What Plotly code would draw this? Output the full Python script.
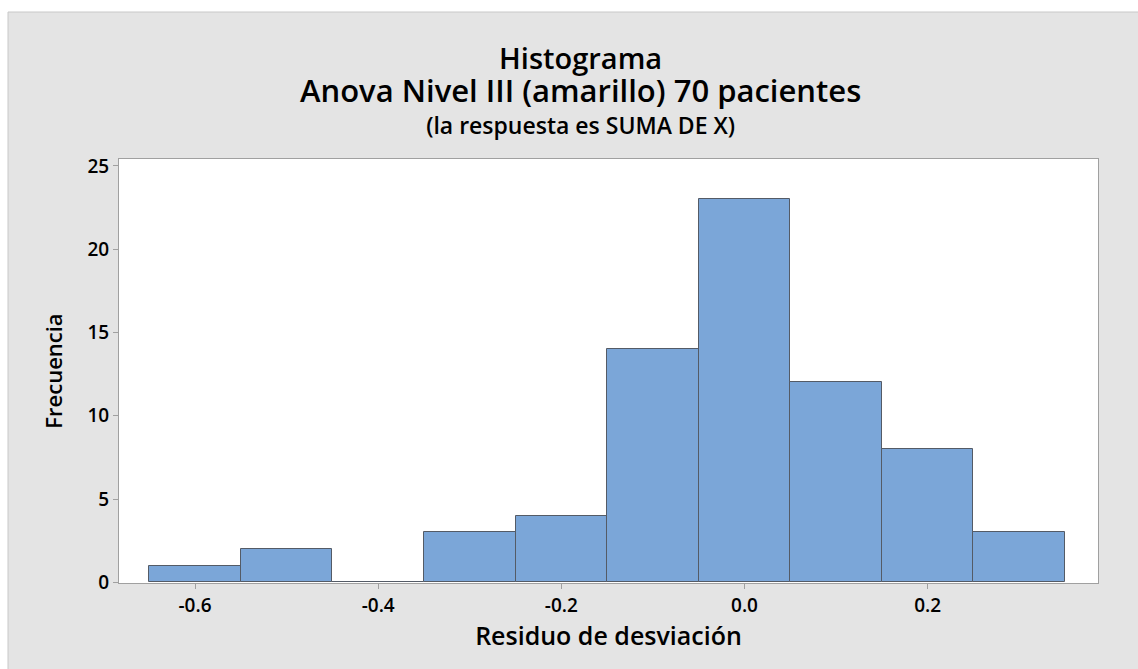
import plotly.graph_objects as go

# Histogram of deviance residuals (bin centres, width 0.1)
bin_centers = [-0.6, -0.5, -0.4, -0.3, -0.2, -0.1, 0.0, 0.1, 0.2, 0.3]
frequencies = [1, 2, 0, 3, 4, 14, 23, 12, 8, 3]
bin_width = 0.1

x_ticks = [-0.6, -0.4, -0.2, 0.0, 0.2]
y_ticks = [0, 5, 10, 15, 20, 25]

W, H = 1138, 669
L, R, T, B = 119, 1098, 159, 583  # plot area edges in pixels

FONT = "Open Sans"
PANEL = "#e4e4e4"


def px_x(p):
    return (p - L) / (R - L)


def px_y(p):
    return (B - p) / (B - T)


fig = go.Figure(
    go.Bar(
        x=bin_centers,
        y=frequencies,
        width=[bin_width] * len(bin_centers),
        marker=dict(color="#7ba6d8", line=dict(color="#545b66", width=1)),
        hoverinfo="x+y",
    )
)

fig.update_layout(
    width=W,
    height=H,
    margin=dict(l=L, r=W - R, t=T, b=H - B, pad=0),
    paper_bgcolor=PANEL,
    plot_bgcolor="white",
    showlegend=False,
    font=dict(family=FONT, color="black"),
    bargap=0,
)

fig.update_xaxes(
    range=[-0.683, 0.386],
    tickvals=x_ticks,
    ticktext=[f"{v:.1f}" for v in x_ticks],
    ticks="outside",
    ticklen=5,
    tickcolor="#a0a0a0",
    tickfont=dict(size=19, family=FONT, weight=600),
    showline=True,
    linecolor="#a0a0a0",
    linewidth=1,
    mirror=True,
    showgrid=False,
    zeroline=False,
    title=dict(text="Residuo de desviación", font=dict(size=25, family=FONT, weight=600), standoff=6),
)
fig.update_yaxes(
    range=[-0.04, 25.42],
    tickvals=y_ticks,
    ticks="outside",
    ticklen=5,
    tickcolor="#a0a0a0",
    tickfont=dict(size=19, family=FONT, weight=600),
    showline=True,
    linecolor="#a0a0a0",
    linewidth=1,
    mirror=True,
    showgrid=False,
    zeroline=False,
    title=dict(text="Frecuencia", font=dict(size=22, family=FONT, weight=600), standoff=18),
)

# White outer strip above and left of the grey panel, plus the panel's edge line
fig.add_shape(type="rect", xref="paper", yref="paper",
              x0=px_x(0), x1=px_x(W), y0=px_y(12), y1=px_y(0),
              fillcolor="white", line=dict(width=0), layer="above")
fig.add_shape(type="rect", xref="paper", yref="paper",
              x0=px_x(0), x1=px_x(8), y0=px_y(H), y1=px_y(0),
              fillcolor="white", line=dict(width=0), layer="above")
fig.add_shape(type="line", xref="paper", yref="paper",
              x0=px_x(8), x1=px_x(W), y0=px_y(12), y1=px_y(12),
              line=dict(color="#c8c8c8", width=1), layer="above")
fig.add_shape(type="line", xref="paper", yref="paper",
              x0=px_x(8), x1=px_x(8), y0=px_y(12), y1=px_y(H),
              line=dict(color="#c8c8c8", width=1), layer="above")

# Three-line title block
title_html = (
    '<span style="font-size:29px">Histograma</span><br>'
    '<span style="font-size:31px">Anova Nivel III (amarillo) 70 pacientes</span><br>'
    '<span style="font-size:23px">(la respuesta es SUMA DE X)</span>'
)
fig.add_annotation(
    text=title_html, xref="paper", yref="paper",
    x=px_x(580), y=px_y(89), xanchor="center", yanchor="middle",
    showarrow=False, align="center",
    font=dict(size=25, family=FONT, weight=600),
)

fig.write_html("out.html")
